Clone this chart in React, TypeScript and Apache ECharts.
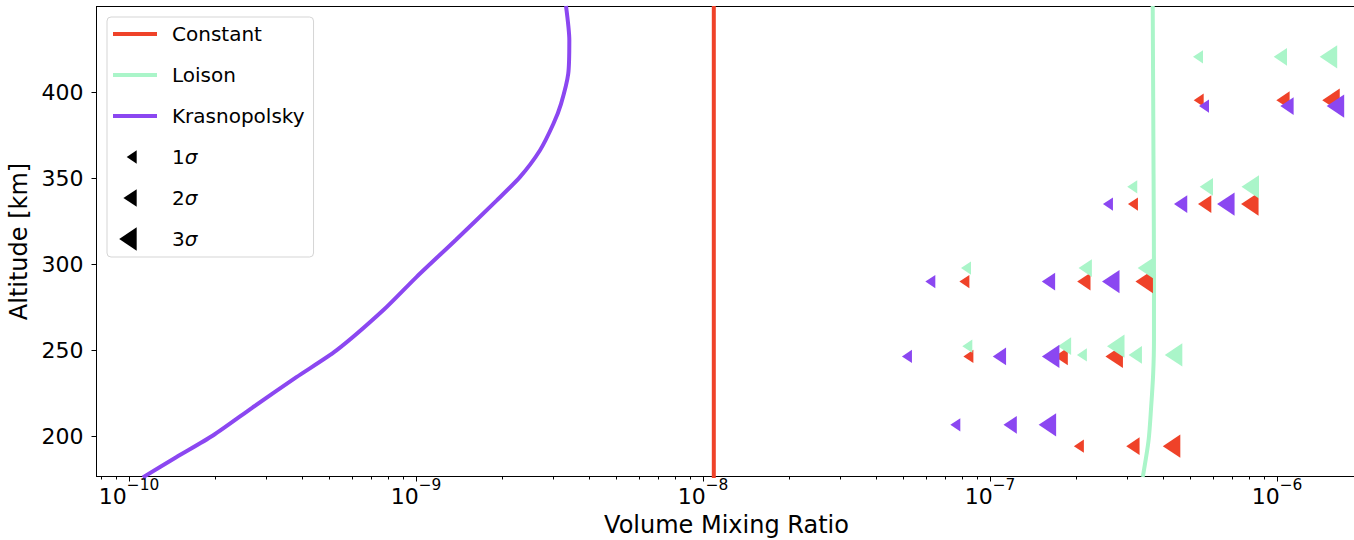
import React, { useEffect, useRef } from "react";
import * as echarts from "echarts";

// ---------- data ----------
const krasnopolskyAlt = [176.3, 188.0, 200.6, 217.0, 234.5, 250.0, 273.3, 292.6, 314.0, 337.0, 350.6, 366.1, 381.6, 393.2, 410.6, 430.1, 450.0];
const krasnopolskyVmr = [1.117e-10, 1.46e-10, 1.96e-10, 2.7e-10, 3.83e-10, 5.28e-10, 7.68e-10, 1.003e-9, 1.372e-9, 1.907e-9, 2.3e-9, 2.7e-9, 3.01e-9, 3.2e-9, 3.39e-9, 3.42e-9, 3.33e-9];

const loisonAlt = [176.5, 178.1, 197.5, 216.9, 236.2, 255.8, 294.4, 352.5, 450.0];
const loisonVmr = [3.4e-7, 3.418e-7, 3.565e-7, 3.64e-7, 3.7e-7, 3.724e-7, 3.724e-7, 3.712e-7, 3.687e-7];

const constantAlt = [176.0, 450.0];
const constantVmr = [1.09e-8, 1.09e-8];

// upper limits (1σ, 2σ, 3σ) per model
const constantLimAlt = [395.3, 335.0, 290.0, 246.5, 194.4];
const constant1s = [5.55e-7, 3.275e-7, 8.47e-8, 8.745e-8, 2.122e-7];
const constant2s = [1.106e-6, 5.9e-7, 2.238e-7, 1.866e-7, 3.317e-7];
const constant3s = [1.653e-6, 8.62e-7, 3.693e-7, 2.903e-7, 4.6e-7];

const loisonLimAlt = [420.5, 345.0, 297.8, 252.5, 247.4];
const loison1s = [5.52e-7, 3.256e-7, 8.58e-8, 8.67e-8, 2.174e-7];
const loison2s = [1.083e-6, 5.98e-7, 2.263e-7, 1.916e-7, 3.381e-7];
const loison3s = [1.62e-6, 8.65e-7, 3.76e-7, 2.94e-7, 4.674e-7];

const krasLimAlt = [391.9, 335.0, 290.0, 246.5, 206.8];
const kras1s = [5.79e-7, 2.68e-7, 6.445e-8, 5.343e-8, 7.877e-8];
const kras2s = [1.142e-6, 4.865e-7, 1.685e-7, 1.137e-7, 1.239e-7];
const kras3s = [1.713e-6, 7.11e-7, 2.825e-7, 1.744e-7, 1.699e-7];

const xMajorExponents = [-10, -9, -8, -7, -6];
const yTicks = [200, 250, 300, 350, 400];
const sigmaNames = ["1σ", "2σ", "3σ"];

// ---------- style ----------
const RED = "#ef4229";
const MINT = "#aaf5c9";
const PURPLE = "#8b47f1";
const FONT = "DejaVu Sans";
const TRI = "path://M0,5L7.5,0L7.5,10Z";
const SIG_SIZES: [number, number][] = [
  [10, 13.3],
  [13.3, 17.7],
  [17.5, 23.3],
];
const X_MIN = -10.1134;
const X_MAX = -5.7233;

const lg = (v: number) => Math.log10(v);
const pairs = (xs: number[], ys: number[]) => xs.map((v, i) => [lg(v), ys[i]]);

const minorTicks: number[] = [];
for (let n = -11; n <= -6; n++) {
  for (let k = 2; k <= 9; k++) {
    const t = n + Math.log10(k);
    if (t > X_MIN && t < X_MAX) minorTicks.push(t);
  }
}

function lineSeries(name: string, xs: number[], ys: number[], color: string, smooth: number) {
  return {
    name,
    type: "line",
    data: pairs(xs, ys),
    symbol: "none",
    showSymbol: false,
    smooth,
    color,
    lineStyle: { color, width: 4 },
    z: 2,
  };
}

function limitSeries(name: string, xs: number[], ys: number[], color: string, s: number, z: number) {
  const [w, h] = SIG_SIZES[s];
  return {
    name,
    type: "scatter",
    data: pairs(xs, ys),
    symbol: TRI,
    symbolSize: [w, h],
    symbolOffset: [-w / 2, 0],
    symbolKeepAspect: false,
    itemStyle: { color, opacity: 1 },
    z,
  };
}

function sigmaLegendSeries(name: string) {
  return { name, type: "scatter", data: [], symbol: TRI, color: "#000", itemStyle: { color: "#000", opacity: 1 } };
}

export default function App() {
  const ref = useRef<HTMLDivElement>(null);
  useEffect(() => {
    if (!ref.current) return;
    const chart = echarts.init(ref.current, undefined, { renderer: "svg" });
    const legendIcon = (tri: number | null) => {
      if (tri === null) return "path://M0,0M54,24M0,10H44V14H0Z";
      const [w, h] = SIG_SIZES[tri];
      const r = 23.7;
      return `path://M0,0M54,24M${r - w},12L${r},${12 - h / 2}L${r},${12 + h / 2}Z`;
    };
    const black = { color: "#000", borderWidth: 0, opacity: 1 };
    const option: any = {
      animation: false,
      grid: {
        left: 96.5,
        top: 6.5,
        width: 1260,
        bottom: 63.5,
        show: false,
        containLabel: false,
        outerBoundsMode: "none",
      },
      legend: {
        orient: "vertical",
        left: 107,
        top: 17,
        itemWidth: 54,
        itemHeight: 24,
        itemGap: 17,
        padding: [5, 9, 6, 6],
        backgroundColor: "rgba(255,255,255,0.8)",
        borderColor: "#d5d5d5",
        borderWidth: 1,
        borderRadius: 4,
        itemStyle: { borderWidth: 0, opacity: 1 },
        selectedMode: false,
        textStyle: {
          fontFamily: FONT,
          fontSize: 20,
          color: "#000",
          rich: { i: { fontFamily: FONT, fontSize: 20, fontStyle: "italic", color: "#000" } },
        },
        formatter: (name: string) => (name.indexOf("σ") >= 0 ? name.replace("σ", "{i|σ}") : name),
        data: [
          { name: "Constant", icon: legendIcon(null) },
          { name: "Loison", icon: legendIcon(null) },
          { name: "Krasnopolsky", icon: legendIcon(null) },
          { name: sigmaNames[0], icon: legendIcon(0), itemStyle: black },
          { name: sigmaNames[1], icon: legendIcon(1), itemStyle: black },
          { name: sigmaNames[2], icon: legendIcon(2), itemStyle: black },
        ],
      },
      xAxis: [
        {
          type: "value",
          min: X_MIN,
          max: X_MAX,
          position: "bottom",
          splitLine: { show: false },
          axisLine: { show: true, onZero: false, lineStyle: { color: "#000", width: 1 } },
          axisTick: { show: true, customValues: xMajorExponents, length: 5, lineStyle: { color: "#000", width: 1 } },
          axisLabel: {
            customValues: xMajorExponents,
            margin: 1,
            formatter: (v: number) => "{b|10}{s|−" + Math.round(-v) + "}",
            rich: {
              b: { fontFamily: FONT, fontSize: 22, color: "#000", lineHeight: 30, verticalAlign: "bottom" },
              s: { fontFamily: FONT, fontSize: 15.4, color: "#000", lineHeight: 15, verticalAlign: "top" },
            },
          },
          name: "Volume Mixing Ratio",
          nameLocation: "middle",
          nameGap: 36.5,
          nameTextStyle: { fontFamily: FONT, fontSize: 24, color: "#000" },
        },
        {
          type: "value",
          min: X_MIN,
          max: X_MAX,
          position: "bottom",
          splitLine: { show: false },
          axisLine: { show: false },
          axisLabel: { show: false },
          axisTick: { show: true, customValues: minorTicks, length: 3, lineStyle: { color: "#000", width: 1 } },
        },
        {
          type: "value",
          min: X_MIN,
          max: X_MAX,
          position: "top",
          splitLine: { show: false },
          axisLine: { show: true, onZero: false, lineStyle: { color: "#000", width: 1 } },
          axisLabel: { show: false },
          axisTick: { show: false },
        },
      ],
      yAxis: {
        type: "value",
        min: 176.8,
        max: 449.7,
        splitLine: { show: false },
        axisLine: { show: true, onZero: false, lineStyle: { color: "#000", width: 1 } },
        axisTick: { show: true, customValues: yTicks, length: 5, lineStyle: { color: "#000", width: 1 } },
        axisLabel: { customValues: yTicks, margin: 13, fontFamily: FONT, fontSize: 22, color: "#000" },
        name: "Altitude [km]",
        nameLocation: "middle",
        nameRotate: 90,
        nameGap: 58,
        nameTextStyle: { fontFamily: FONT, fontSize: 24, color: "#000" },
      },
      series: [
        lineSeries("Constant", constantVmr, constantAlt, RED, 0),
        lineSeries("Loison", loisonVmr, loisonAlt, MINT, 0.3),
        lineSeries("Krasnopolsky", krasnopolskyVmr, krasnopolskyAlt, PURPLE, 0.25),
        limitSeries("Constant", constant1s, constantLimAlt, RED, 0, 3),
        limitSeries("Constant", constant2s, constantLimAlt, RED, 1, 3),
        limitSeries("Constant", constant3s, constantLimAlt, RED, 2, 3),
        limitSeries("Loison", loison1s, loisonLimAlt, MINT, 0, 3),
        limitSeries("Loison", loison2s, loisonLimAlt, MINT, 1, 3),
        limitSeries("Loison", loison3s, loisonLimAlt, MINT, 2, 3),
        limitSeries("Krasnopolsky", kras1s, krasLimAlt, PURPLE, 0, 3),
        limitSeries("Krasnopolsky", kras2s, krasLimAlt, PURPLE, 1, 3),
        limitSeries("Krasnopolsky", kras3s, krasLimAlt, PURPLE, 2, 3),
        sigmaLegendSeries(sigmaNames[0]),
        sigmaLegendSeries(sigmaNames[1]),
        sigmaLegendSeries(sigmaNames[2]),
      ],
    };
    chart.setOption(option);
    return () => chart.dispose();
  }, []);
  return (
    <div
      ref={ref}
      style={{ position: "absolute", left: 0, top: 0, width: 1354, height: 540, background: "#fff" }}
    />
  );
}
